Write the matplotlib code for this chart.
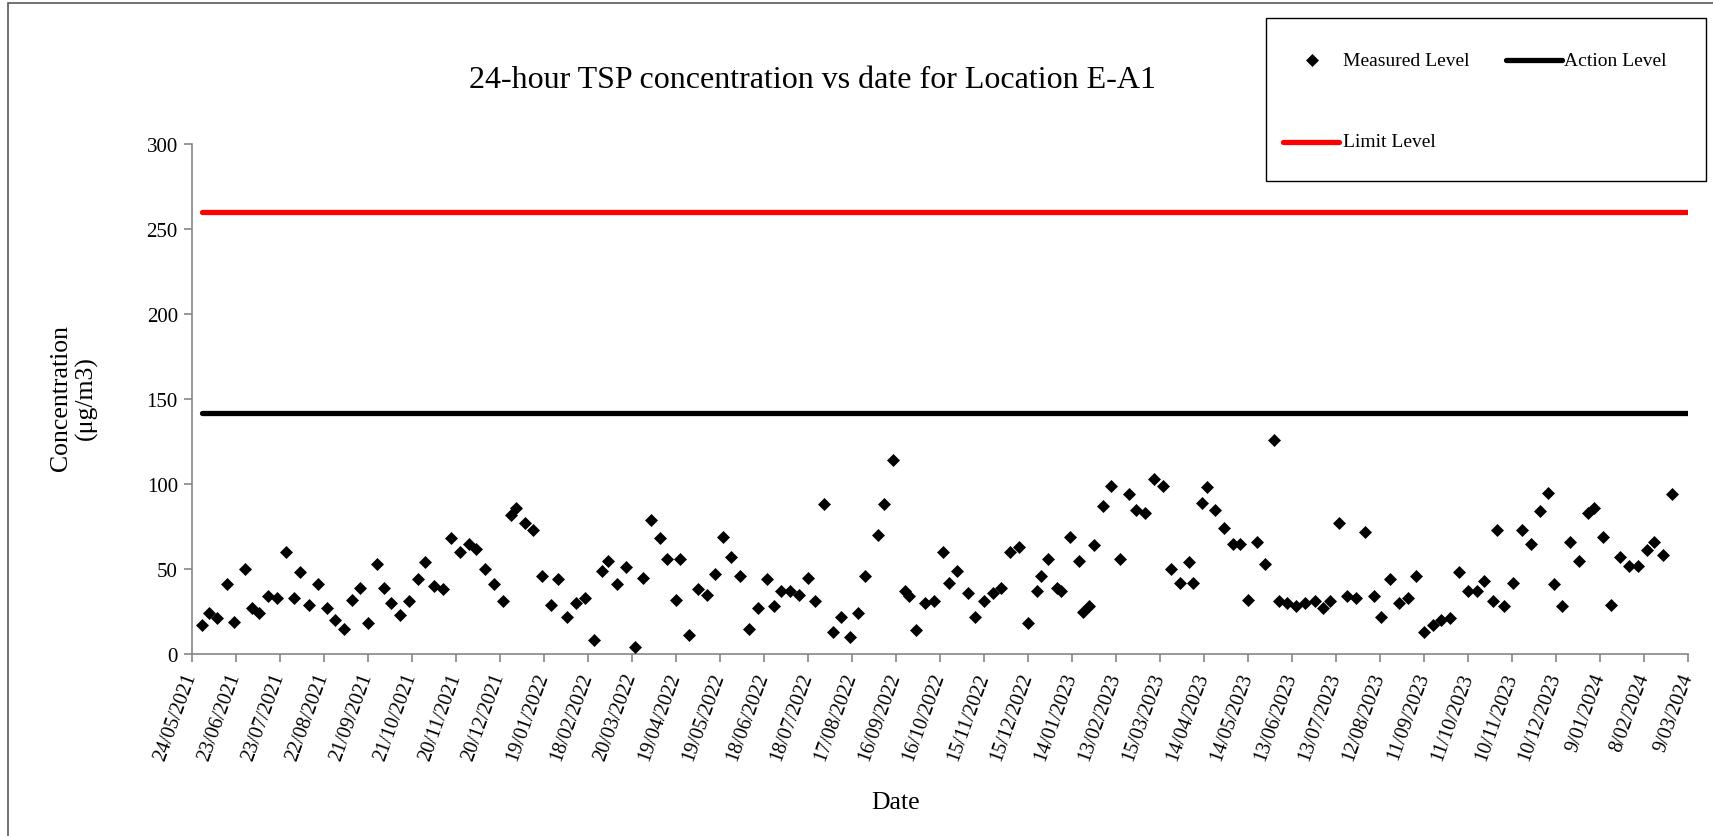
import datetime as dt
import matplotlib
matplotlib.use("Agg")
import matplotlib.pyplot as plt
from matplotlib.lines import Line2D
from matplotlib.patches import Rectangle

plt.rcParams['font.family'] = ['Liberation Serif', 'DejaVu Serif']

# ---------------- data ----------------
start_date = dt.date(2021, 5, 24)
end_date = dt.date(2024, 3, 9)
# days after 24/05/2021 for each 24-hour TSP sample
sample_day = [7, 12, 17, 24, 29, 36, 41, 46, 52, 58, 64, 70, 74, 80, 86, 92, 98, 104, 109, 115,
              120, 126, 131, 136, 142, 148, 154, 159, 165, 171, 177, 183, 189, 194, 200, 206, 212, 218, 221, 227,
              233, 239, 245, 250, 256, 262, 268, 274, 280, 284, 290, 296, 302, 308, 313, 319, 324, 330, 333, 339,
              345, 351, 357, 362, 368, 374, 380, 386, 392, 397, 402, 408, 414, 420, 425, 431, 437, 443, 449, 454,
              459, 468, 472, 478, 486, 489, 494, 500, 506, 512, 516, 522, 529, 534, 540, 546, 552, 558, 564, 570,
              576, 579, 584, 590, 593, 599, 605, 608, 612, 615, 621, 627, 633, 639, 644, 650, 656, 662, 668, 674,
              680, 683, 689, 692, 698, 704, 710, 715, 720, 726, 732, 738, 741, 747, 753, 759, 766, 771, 776, 782,
              788, 794, 800, 806, 811, 817, 823, 829, 835, 840, 846, 852, 858, 864, 870, 876, 881, 887, 890, 895,
              901, 907, 913, 919, 925, 929, 934, 940, 946, 952, 956, 962, 968, 974, 980, 986, 992, 997, 1003, 1009]
measured = [17, 24, 21, 41, 19, 50, 27, 24, 34, 33, 60, 33, 48, 29, 41, 27, 20, 15, 32, 39,
            18, 53, 39, 30, 23, 31, 44, 54, 40, 38, 68, 60, 65, 62, 50, 41, 31, 82, 86, 77,
            73, 46, 29, 44, 22, 30, 33, 8, 49, 55, 41, 51, 4, 45, 79, 68, 56, 32, 56, 11,
            38, 35, 47, 69, 57, 46, 15, 27, 44, 28, 37, 37, 35, 45, 31, 88, 13, 22, 10, 24,
            46, 70, 88, 114, 37, 34, 14, 30, 31, 60, 42, 49, 36, 22, 31, 36, 39, 60, 63, 18,
            37, 46, 56, 39, 37, 69, 55, 25, 28, 64, 87, 99, 56, 94, 85, 83, 103, 99, 50, 42,
            54, 42, 89, 98, 85, 74, 65, 65, 32, 66, 53, 126, 31, 30, 28, 30, 31, 27, 31, 77,
            34, 33, 72, 34, 22, 44, 30, 33, 46, 13, 17, 20, 21, 48, 37, 37, 43, 31, 73, 28,
            42, 73, 65, 84, 95, 41, 28, 66, 55, 83, 86, 69, 29, 57, 52, 52, 61, 66, 58, 94]
action_level = 142
limit_level = 260
y_ticks = [0, 50, 100, 150, 200, 250, 300]
tick_step_days = 30

dates = [start_date + dt.timedelta(days=d) for d in sample_day]
level_dates = [dates[0], end_date]

# ---------------- figure ----------------
W, H = 1713, 837
fig = plt.figure(figsize=(W / 100, H / 100), dpi=100)
ax = fig.add_axes([191.7 / W, 1 - 655 / H, (1687.7 - 191.7) / W, (655 - 145) / H])

ax.plot(level_dates, [limit_level] * 2, color='#ff0000', lw=3.8, solid_capstyle='round', zorder=2)
ax.plot(level_dates, [action_level] * 2, color='black', lw=3.8, solid_capstyle='round', zorder=2)
ax.plot(dates, measured, linestyle='none', marker='D', ms=6.3, color='black', mew=0.5, zorder=3)

ax.set_xlim(start_date, end_date)
ax.set_ylim(0, 300)
ax.set_yticks(y_ticks)

xt = []
d = start_date
while d <= end_date:
    xt.append(d)
    d += dt.timedelta(days=tick_step_days)
ax.set_xticks(xt)
ax.set_xticklabels([f"{t.day}/{t.month:02d}/{t.year}" for t in xt],
                   rotation=70, ha='right', va='center', rotation_mode='anchor', fontsize=14.5)
for lab in ax.get_yticklabels():
    lab.set_fontsize(15)

for s in ['top', 'right']:
    ax.spines[s].set_visible(False)
for s in ['left', 'bottom']:
    ax.spines[s].set_color('#868686')
    ax.spines[s].set_linewidth(1.2)
ax.tick_params(axis='both', direction='out', length=6, width=1.2, color='#868686', labelcolor='black')
ax.tick_params(axis='x', pad=8)
ax.tick_params(axis='y', pad=4)

fig.text(812 / W, 1 - 80 / H, "24-hour TSP concentration vs date for Location E-A1",
         ha='center', va='center', fontsize=23)
fig.text(74 / W, 1 - 398 / H, "Concentration\n(μg/m3)", ha='center', va='center',
         rotation=90, fontsize=18.5, linespacing=1.15)
fig.text(896 / W, 1 - 803 / H, "Date", ha='center', va='center', fontsize=18.5)

# outer chart frame (left and top edges visible)
fig.add_artist(Rectangle((8.3 / W, -0.2), 1.5, 1.2 - 3.5 / H, transform=fig.transFigure,
                         fill=False, edgecolor='#595959', lw=1.2))

# legend box
lx0, ly0, lx1, ly1 = 1266, 19, 1706, 182
fig.add_artist(Rectangle((lx0 / W, 1 - ly1 / H), (lx1 - lx0) / W, (ly1 - ly0) / H,
                         transform=fig.transFigure, fill=False, edgecolor='black', lw=1.0))
r1, r2 = 1 - 61 / H, 1 - 142.7 / H
fig.add_artist(Line2D([1311.7 / W], [r1], marker='D', ms=6.3, color='black', mew=0.5,
                      linestyle='none', transform=fig.transFigure))
fig.text(1343 / W, r1, "Measured Level", ha='left', va='center', fontsize=14)
fig.add_artist(Line2D([1506 / W, 1562 / W], [r1, r1], color='black', lw=3.8,
                      solid_capstyle='round', transform=fig.transFigure))
fig.text(1564 / W, r1, "Action Level", ha='left', va='center', fontsize=14)
fig.add_artist(Line2D([1283 / W, 1339 / W], [r2, r2], color='#ff0000', lw=3.8,
                      solid_capstyle='round', transform=fig.transFigure))
fig.text(1343 / W, r2, "Limit Level", ha='left', va='center', fontsize=14)

fig.savefig("out.png", dpi=100)
